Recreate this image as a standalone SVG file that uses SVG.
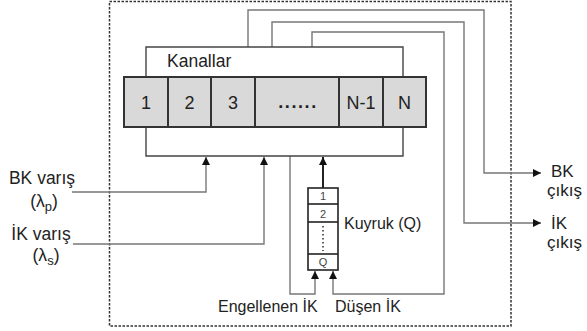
<svg xmlns="http://www.w3.org/2000/svg" width="587" height="331" viewBox="0 0 587 331">
<style>
text{font-family:"Liberation Sans",Arial,sans-serif;fill:#222}
.lbl{font-size:17.5px}
.sm{font-size:16px}
.out{font-size:17px}
.cell{fill:#d9d9d9;stroke:#333;stroke-width:2}
.celltxt{font-size:18px;text-anchor:middle}
.br{fill:none;stroke:#444;stroke-width:1.4}
.con{fill:none;stroke:#777;stroke-width:1.4}
.q{fill:#fff;stroke:#222;stroke-width:1.6}
.qt{font-size:11px;text-anchor:middle;fill:#444}
</style>
<defs>
<marker id="ah" viewBox="0 0 10 10" refX="10" refY="5" markerWidth="9" markerHeight="8" orient="auto" markerUnits="userSpaceOnUse">
<path d="M0,0 L10,5 L0,10 z" fill="#111"/>
</marker>
</defs>
<rect id="border" x="109.5" y="1.5" width="401.5" height="324.5" fill="none" stroke="#333" stroke-width="1.5" stroke-dasharray="2.5,1.5"/>

<g id="connectors">
<path class="con" d="M248,47 V10 H484 V173 H541" marker-end="url(#ah)"/>
<path class="con" d="M272,47 V22 H464 V223 H541" marker-end="url(#ah)"/>
<path class="con" d="M312,47 V32 H444 V294 H333 V271" marker-end="url(#ah)"/>
<path class="con" d="M290,156 V294 H315 V271" marker-end="url(#ah)"/>
<path class="con" d="M72,192 H206 V157" marker-end="url(#ah)"/>
<path class="con" d="M73,244 H264 V157" marker-end="url(#ah)"/>
<path fill="none" stroke="#222" stroke-width="2" d="M323,188 V157" marker-end="url(#ah)"/>
</g>

<g id="channels">
<path class="br" d="M146,77 V47 H403 V77"/>
<path class="br" d="M146,127 V156 H403 V127"/>
<text class="lbl" x="167" y="67">Kanallar</text>
<rect class="cell" x="124" y="77" width="44" height="50"/>
<rect class="cell" x="168" y="77" width="43" height="50"/>
<rect class="cell" x="211" y="77" width="44" height="50"/>
<rect class="cell" x="255" y="77" width="84" height="50"/>
<rect class="cell" x="339" y="77" width="44" height="50"/>
<rect class="cell" x="383" y="77" width="43" height="50"/>
<text class="celltxt" x="146" y="109">1</text>
<text class="celltxt" x="189.5" y="109">2</text>
<text class="celltxt" x="233" y="109">3</text>
<text class="celltxt" x="298" y="108" style="font-weight:bold;letter-spacing:1.6px">......</text>
<text class="celltxt" x="361" y="109">N-1</text>
<text class="celltxt" x="404.5" y="109">N</text>
</g>

<g id="queue">
<rect class="q" x="308" y="188" width="30" height="82"/>
<line class="q" x1="308" y1="204" x2="338" y2="204" stroke-width="1"/>
<line class="q" x1="308" y1="222" x2="338" y2="222" stroke-width="1"/>
<line class="q" x1="308" y1="254" x2="338" y2="254" stroke-width="1"/>
<text class="qt" x="323" y="200">1</text>
<text class="qt" x="323" y="218">2</text>
<line x1="323" y1="226" x2="323" y2="251" stroke="#333" stroke-width="1.6" stroke-dasharray="1.5,2.5"/>
<text class="qt" x="323" y="266">Q</text>
<text class="sm" x="344" y="229">Kuyruk (Q)</text>
</g>

<g id="inputs">
<text class="lbl" x="42" y="184" text-anchor="middle">BK varış</text>
<text class="lbl" x="44" y="207" text-anchor="middle">(λ<tspan font-size="13" dy="4">p</tspan><tspan dy="-4">)</tspan></text>
<text class="lbl" x="41" y="240" text-anchor="middle">İK varış</text>
<text class="lbl" x="46" y="261" text-anchor="middle">(λ<tspan font-size="13" dy="4">s</tspan><tspan dy="-4">)</tspan></text>
</g>

<g id="outputs">
<text class="out" x="551" y="177">BK</text>
<text class="out" x="547" y="196">çıkış</text>
<text class="out" x="551" y="229">İK</text>
<text class="out" x="547" y="248">çıkış</text>
</g>

<g id="drops">
<text class="sm" x="218" y="312">Engellenen İK</text>
<text class="sm" x="335" y="312">Düşen İK</text>
</g>
</svg>
